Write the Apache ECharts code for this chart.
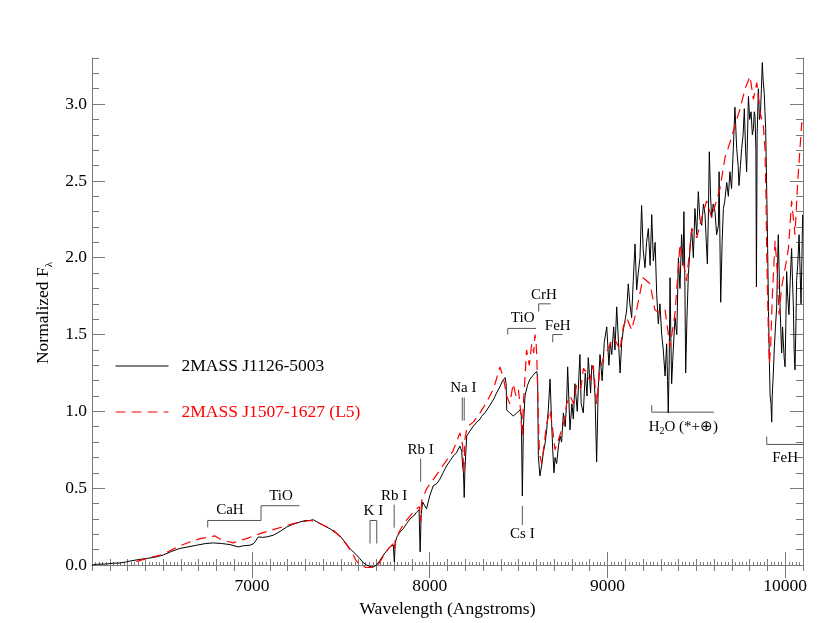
<!DOCTYPE html>
<html>
<head>
<meta charset="utf-8">
<script src="https://cdn.jsdelivr.net/npm/echarts@6/dist/echarts.min.js"></script>
<style>
  html, body { margin: 0; padding: 0; background: #fff; }
  #chart { width: 830px; height: 623px; }
</style>
</head>
<body>
<div id="chart"></div>
<script>
// spectra: [wavelength (A), normalized flux]
var blackSpectrum = [
  [6100,0.00],[6130,0.005],[6183,0.007],[6220,0.012],[6258,0.013],[6290,0.02],[6314,0.026],[6360,0.035],
  [6408,0.043],[6450,0.05],[6501,0.065],[6550,0.09],[6595,0.108],[6640,0.118],[6689,0.129],[6740,0.14],
  [6783,0.144],[6830,0.14],[6876,0.133],[6923,0.118],[6950,0.125],[6989,0.129],[7010,0.14],[7036,0.183],
  [7060,0.18],[7083,0.183],[7120,0.194],[7160,0.22],[7195,0.247],[7230,0.265],[7270,0.28],[7300,0.29],
  [7326,0.29],[7345,0.295],[7382,0.27],[7420,0.247],[7439,0.236],[7470,0.21],[7495,0.19],[7530,0.14],
  [7551,0.107],[7570,0.085],[7589,0.065],[7608,0.04],[7626,0.015],[7645,0.0],[7664,-0.01],[7685,-0.012],
  [7701,0.0],[7720,0.03],[7739,0.065],[7760,0.095],[7776,0.118],[7795,0.13],[7801,0.02],[7806,0.14],
  [7814,0.18],[7830,0.21],[7851,0.236],[7870,0.27],[7889,0.30],[7910,0.32],[7926,0.344],[7940,0.36],
  [7946,0.086],[7952,0.33],[7960,0.41],[7970,0.40],[7982,0.366],[8000,0.45],[8020,0.516],[8040,0.53],
  [8058,0.56],[8075,0.60],[8095,0.645],[8115,0.68],[8133,0.71],[8150,0.73],[8170,0.774],[8180,0.74],
  [8185,0.645],[8190,0.60],[8194,0.44],[8198,0.62],[8208,0.84],[8225,0.87],[8245,0.903],[8265,0.93],
  [8283,0.95],[8292,0.968],[8310,0.99],[8339,1.04],[8360,1.08],[8376,1.12],[8395,1.16],[8410,1.20],
  [8424,1.22],[8430,1.18],[8433,1.01],[8450,0.99],[8470,0.97],[8490,0.99],[8508,1.01],[8515,0.98],
  [8521,0.45],[8527,0.90],[8536,1.10],[8550,1.17],[8564,1.21],[8585,1.24],[8602,1.26],[8607,1.22],
  [8611,0.71],[8620,0.58],[8630,0.65],[8639,0.73],[8650,0.80],[8658,0.88],[8667,1.01],[8677,1.21],
  [8686,0.92],[8692,0.75],[8699,0.60],[8705,0.70],[8714,0.66],[8725,0.78],[8733,0.84],[8742,0.80],
  [8752,0.99],[8762,0.90],[8770,1.05],[8776,1.29],[8789,0.88],[8800,1.05],[8808,0.95],[8817,1.18],
  [8830,1.00],[8845,1.37],[8852,1.05],[8864,0.99],[8875,1.25],[8885,1.10],[8892,1.35],[8905,1.12],
  [8912,1.30],[8921,1.27],[8930,1.10],[8939,0.67],[8948,1.15],[8958,1.37],[8970,1.20],[8982,1.45],
  [8996,1.55],[9008,1.30],[9016,1.45],[9024,1.37],[9035,1.55],[9042,1.40],[9052,1.68],[9062,1.45],
  [9071,1.25],[9080,1.45],[9089,1.53],[9100,1.60],[9108,1.66],[9117,1.83],[9126,1.70],[9136,1.61],
  [9145,1.85],[9155,2.09],[9164,1.79],[9173,1.90],[9183,2.00],[9192,2.34],[9201,2.05],[9211,1.935],
  [9220,2.10],[9230,2.19],[9240,1.95],[9249,2.28],[9258,1.98],[9268,2.10],[9277,1.76],[9286,1.57],
  [9295,1.70],[9305,1.50],[9314,1.40],[9324,1.23],[9333,1.44],[9338,1.20],[9342,0.99],[9347,1.30],
  [9352,1.87],[9357,1.45],[9361,1.18],[9370,1.40],[9380,1.61],[9390,1.50],[9399,2.00],[9408,1.80],
  [9417,2.15],[9425,1.95],[9430,2.30],[9435,1.90],[9440,1.25],[9447,1.60],[9455,1.89],[9464,2.05],
  [9474,2.19],[9483,2.00],[9492,2.32],[9502,2.15],[9511,2.43],[9520,2.25],[9530,2.21],[9540,2.35],
  [9549,2.28],[9556,2.10],[9562,1.96],[9568,2.30],[9573,2.69],[9580,2.40],[9586,2.26],[9595,2.35],
  [9605,2.30],[9614,2.15],[9624,2.21],[9628,2.56],[9637,1.71],[9645,2.10],[9652,2.32],[9660,2.37],
  [9671,2.49],[9680,2.40],[9689,2.56],[9698,2.45],[9708,2.71],[9717,2.98],[9727,2.71],[9735,2.60],
  [9740,2.47],[9748,2.60],[9755,2.71],[9763,2.80],[9770,2.97],[9777,2.70],[9783,2.56],[9788,2.80],
  [9793,3.05],[9800,2.90],[9808,2.95],[9815,2.80],[9821,2.84],[9826,2.95],[9830,2.92],[9835,2.70],
  [9838,1.81],[9842,2.80],[9849,3.10],[9855,2.90],[9860,2.92],[9866,3.10],[9871,3.27],[9876,3.15],
  [9882,3.07],[9886,2.95],[9890,2.84],[9895,2.50],[9901,2.06],[9906,1.65],[9911,1.31],[9915,1.10],
  [9920,1.05],[9924,0.93],[9927,1.10],[9933,1.25],[9939,1.42],[9945,1.55],[9952,1.68],[9956,1.90],
  [9961,2.15],[9966,1.90],[9971,1.68],[9976,1.50],[9980,1.38],[9985,1.55],[9989,1.46],[9994,1.35],
  [9999,1.29],[10004,1.60],[10008,1.91],[10014,1.75],[10021,1.63],[10028,1.85],[10036,2.06],[10041,1.85],
  [10046,1.68],[10050,1.40],[10055,1.27],[10060,1.55],[10064,1.85],[10070,1.95],[10078,2.15],[10084,1.90],
  [10089,1.70],[10094,2.00],[10098,2.28]
];

var redSpectrum = [
  [6350,0.022],[6400,0.04],[6450,0.055],[6501,0.07],[6550,0.10],[6595,0.125],[6650,0.15],[6708,0.172],
  [6764,0.183],[6790,0.19],[6820,0.17],[6860,0.155],[6895,0.144],[6930,0.16],[6970,0.172],[7010,0.19],
  [7045,0.204],[7090,0.22],[7139,0.237],[7190,0.255],[7233,0.27],[7280,0.28],[7326,0.29],[7360,0.285],
  [7400,0.26],[7458,0.226],[7500,0.18],[7540,0.12],[7570,0.065],[7585,0.03],[7598,0.013],[7620,0.0],
  [7640,-0.016],[7670,-0.016],[7700,-0.01],[7720,0.02],[7740,0.06],[7770,0.11],[7795,0.14],[7800,0.10],
  [7806,0.16],[7830,0.22],[7860,0.28],[7890,0.32],[7920,0.36],[7942,0.38],[7948,0.28],[7955,0.42],
  [7982,0.495],[8010,0.54],[8040,0.59],[8070,0.64],[8100,0.69],[8130,0.74],[8170,0.86],[8185,0.78],
  [8192,0.60],[8198,0.82],[8210,0.90],[8245,0.93],[8283,0.99],[8320,1.06],[8360,1.15],[8395,1.29],
  [8414,1.22],[8433,1.10],[8450,1.05],[8470,1.18],[8485,1.10],[8499,1.14],[8512,1.00],[8520,0.84],
  [8527,1.05],[8545,1.40],[8560,1.30],[8574,1.44],[8585,1.38],[8592,1.50],[8598,1.45],[8602,1.37],
  [8610,1.00],[8617,0.73],[8630,0.66],[8645,0.80],[8658,0.92],[8677,1.01],[8690,0.90],[8705,0.75],
  [8720,0.80],[8742,0.88],[8760,0.95],[8770,1.05],[8790,1.10],[8810,1.05],[8827,1.18],[8850,1.15],
  [8865,1.28],[8883,1.25],[8900,1.20],[8920,1.30],[8939,1.05],[8955,1.25],[8977,1.35],[9000,1.40],
  [9033,1.48],[9050,1.45],[9070,1.40],[9089,1.55],[9108,1.61],[9136,1.53],[9164,1.66],[9200,1.87],
  [9240,1.83],[9267,1.66],[9295,1.64],[9324,1.66],[9352,1.42],[9380,1.64],[9408,2.09],[9445,1.85],
  [9474,2.19],[9502,2.13],[9530,2.26],[9558,2.37],[9586,2.26],[9605,2.34],[9633,2.45],[9661,2.65],
  [9689,2.75],[9717,2.86],[9746,2.97],[9774,3.10],[9802,3.18],[9821,3.03],[9840,3.14],[9858,2.95],
  [9877,2.86],[9886,2.71],[9892,2.39],[9897,1.96],[9905,1.53],[9911,1.31],[9918,1.42],[9927,1.74],
  [9943,2.11],[9954,1.93],[9965,1.63],[9980,1.81],[9999,1.93],[10018,2.06],[10036,2.37],[10055,2.15],
  [10070,2.49],[10083,2.71],[10093,2.88],[10100,2.85]
];

var seriesNames = ['2MASS J1126-5003', '2MASS J1507-1627 (L5)'];
var xMajorTicks = [7000, 8000, 9000, 10000];
var yMajorTicks = [0, 0.5, 1.0, 1.5, 2.0, 2.5, 3.0];

// feature labels: text, label position, bracket path (data coords)
var featureText = ['CaH', 'TiO', 'K I', 'Rb I', 'Rb I', 'Na I', 'Cs I', 'TiO', 'CrH', 'FeH',
  'H{sub|2}O (*+⊕)', 'FeH'];
var featureLabelPos = [[6876,0.355],[7163,0.446],[7683,0.348],[7800,0.446],[7949,0.747],[8189,1.155],
  [8521,0.20],[8523,1.605],[8643,1.755],[8720,1.555],[9427,0.897],[9999,0.695]];
var featurePaths = [
  [[[6751,0.245],[6751,0.29],[7051,0.29]]],
  [[[7051,0.29],[7051,0.386],[7267,0.386]]],
  [[[7664,0.14],[7664,0.29],[7702,0.29],[7702,0.14]]],
  [[[7800,0.243],[7800,0.393]]],
  [[[7949,0.543],[7949,0.693]]],
  [[[8183,0.94],[8183,1.09]], [[8194,0.94],[8194,1.09]]],
  [[[8521,0.26],[8521,0.385]]],
  [[[8439,1.50],[8439,1.54],[8598,1.54]]],
  [[[8613,1.65],[8613,1.70],[8681,1.70]]],
  [[[8692,1.45],[8692,1.50],[8748,1.50]]],
  [[[9249,1.04],[9249,0.995],[9599,0.995]]],
  [[[9896,0.837],[9896,0.785],[10100,0.785]]]
];

var yMinorTicks = [];
for (var t = 0; t <= 33; t++) yMinorTicks.push(t / 10);

var chart = echarts.init(document.getElementById('chart'));
var font = 'Liberation Serif';
var axisGray = '#7a7a7a';
var xRange = { min: 6100, max: 10100 };
var yRange = { min: -0.02, max: 3.3 };

function xAx(pos, major, labels) {
  var ax = {
    type: 'value', position: pos, min: xRange.min, max: xRange.max,
    interval: 100,
    splitLine: { show: false },
    axisLine: { show: !major, lineStyle: { color: axisGray, width: 1 } },
    axisTick: { show: true, inside: true, length: major ? 13 : 6, lineStyle: { color: axisGray } },
    axisLabel: { show: false }
  };
  if (major) {
    ax.axisTick.customValues = xMajorTicks;
  } else if (pos === 'bottom') {
    ax.minorTick = { show: true, splitNumber: 5, length: 3, lineStyle: { color: axisGray } };
  }
  if (labels) {
    ax.axisLabel = { show: true, customValues: xMajorTicks, color: '#000', fontFamily: font, fontSize: 17.5, margin: 9,
      formatter: function (v) { return String(v); } };
    ax.name = 'Wavelength (Angstroms)';
    ax.nameLocation = 'middle';
    ax.nameGap = 28;
    ax.nameTextStyle = { color: '#000', fontFamily: font, fontSize: 17.5 };
  }
  return ax;
}

function yAx(pos, major, labels) {
  var ax = {
    type: 'value', position: pos, min: yRange.min, max: yRange.max,
    splitLine: { show: false },
    axisLine: { show: !major, lineStyle: { color: axisGray, width: 1 } },
    axisTick: { show: true, inside: true, length: major ? 13 : 7,
      customValues: major ? yMajorTicks : yMinorTicks, lineStyle: { color: axisGray } },
    axisLabel: { show: false }
  };
  if (labels) {
    ax.axisLabel = { show: true, customValues: yMajorTicks, color: '#000', fontFamily: font, fontSize: 17.5, margin: 5,
      formatter: function (v) { return v.toFixed(1); } };
    ax.name = '{n|Normalized F}{s|λ}';
    ax.nameLocation = 'middle';
    ax.nameGap = 35;
    ax.nameTextStyle = {
      rich: {
        n: { color: '#000', fontFamily: font, fontSize: 17.5, lineHeight: 22 },
        s: { color: '#000', fontFamily: font, fontSize: 11, lineHeight: 22, verticalAlign: 'bottom' }
      }
    };
  }
  return ax;
}

function renderFeature(params, api) {
  var i = api.value(2);
  var children = [];
  featurePaths[i].forEach(function (path) {
    children.push({
      type: 'polyline',
      shape: { points: path.map(function (p) { return api.coord(p); }) },
      style: { stroke: '#555', lineWidth: 1, fill: null }
    });
  });
  var c = api.coord([api.value(0), api.value(1)]);
  children.push({
    type: 'text',
    x: c[0], y: c[1],
    style: {
      text: featureText[i], fill: '#000', font: '15px "Liberation Serif"',
      align: 'center', verticalAlign: 'middle',
      rich: { sub: { fontSize: 10, fontFamily: font, fill: '#000', verticalAlign: 'bottom', lineHeight: 18 } }
    }
  });
  return { type: 'group', children: children };
}

chart.setOption({
  animation: false,
  textStyle: { fontFamily: font },
  grid: { left: 92, right: 27, top: 58, bottom: 49 },
  xAxis: [xAx('bottom', false, true), xAx('bottom', true, false), xAx('top', false, false), xAx('top', true, false)],
  yAxis: [yAx('left', false, true), yAx('left', true, false), yAx('right', false, false), yAx('right', true, false)],
  legend: {
    orient: 'vertical', left: 110, top: 351,
    itemWidth: 53, itemHeight: 20, itemGap: 26,
    itemStyle: { color: 'transparent', borderColor: 'transparent', borderWidth: 0, opacity: 0 },
    lineStyle: { width: 1 },
    textStyle: { fontFamily: font, fontSize: 17.5, lineHeight: 20, padding: [0, 0, 0, 8] },
    data: [
      { name: seriesNames[0], textStyle: { color: '#000' } },
      { name: seriesNames[1], textStyle: { color: '#ff0000' } }
    ]
  },
  series: [
    {
      name: seriesNames[0], type: 'line', data: blackSpectrum, symbol: 'none',
      xAxisIndex: 0, yAxisIndex: 0,
      lineStyle: { color: '#000', width: 1 }, itemStyle: { color: '#000' }
    },
    {
      name: seriesNames[1], type: 'line', data: redSpectrum, symbol: 'none',
      xAxisIndex: 0, yAxisIndex: 0,
      lineStyle: { color: '#ff0000', width: 1.2, type: [10, 6] }, itemStyle: { color: '#ff0000' }
    },
    {
      type: 'custom', silent: true, xAxisIndex: 0, yAxisIndex: 0,
      renderItem: renderFeature,
      data: featureLabelPos.map(function (p, i) { return [p[0], p[1], i]; })
    }
  ]
});
</script>
</body>
</html>
